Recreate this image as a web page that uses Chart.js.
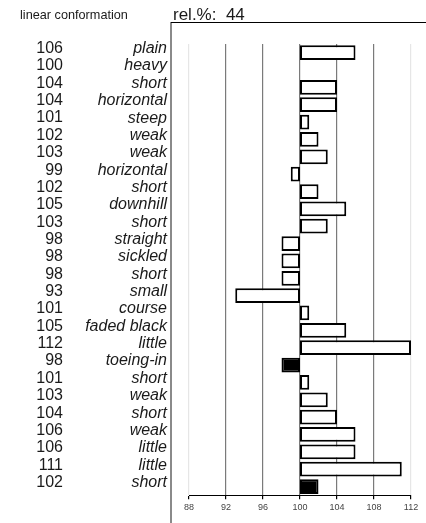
<!DOCTYPE html>
<html>
<head>
<meta charset="utf-8">
<script src="https://cdn.jsdelivr.net/npm/chart.js@4"></script>
<style>
  body { margin: 0; background: #fff; }
  canvas { display: block; }
</style>
</head>
<body>
<canvas id="chart" width="426" height="523"></canvas>
<script>
// rows, top to bottom
const traits = ['plain', 'heavy', 'short', 'horizontal', 'steep', 'weak', 'weak', 'horizontal', 'short',
    'downhill', 'short', 'straight', 'sickled', 'short', 'small', 'course', 'faded black', 'little',
    'toeing-in', 'short', 'weak', 'short', 'weak', 'little', 'little', 'short'];
const relValues = [106, 100, 104, 104, 101, 102, 103, 99, 102, 105, 103, 98, 98, 98, 93, 101, 105, 112,
    98, 101, 103, 104, 106, 106, 111, 102];
const filledRows = [18, 25];
const baseline = 100;
const xTicks = [88, 92, 96, 100, 104, 108, 112];
const chartTitle = 'linear conformation';
const relLabel = 'rel.%:  44';

const FONT = '"Liberation Sans", Arial, sans-serif';

// left columns, heading and frame
const labelsPlugin = {
    id: 'labels',
    afterDraw(chart) {
        const ctx = chart.ctx;
        const yScale = chart.scales.y;
        ctx.save();

        ctx.strokeStyle = '#8a8a8a';
        ctx.lineWidth = 2;
        ctx.beginPath();
        ctx.moveTo(171, 22);
        ctx.lineTo(171, 523);
        ctx.stroke();
        ctx.strokeStyle = '#000';
        ctx.lineWidth = 1;
        ctx.beginPath();
        ctx.moveTo(171, 22.5);
        ctx.lineTo(426, 22.5);
        ctx.stroke();

        ctx.fillStyle = '#1a1a1a';
        ctx.textBaseline = 'alphabetic';
        ctx.textAlign = 'left';
        ctx.font = '12.7px ' + FONT;
        ctx.fillText(chartTitle, 20, 19);
        ctx.font = '17px ' + FONT;
        ctx.fillText(relLabel, 173, 20);

        ctx.textBaseline = 'middle';
        ctx.textAlign = 'right';
        traits.forEach((t, i) => {
            const y = yScale.getPixelForValue(i) - 4;
            ctx.font = '16px ' + FONT;
            ctx.fillText(String(relValues[i]), 63, y);
            ctx.font = 'italic 16px ' + FONT;
            ctx.fillText(t, 167, y);
        });
        ctx.restore();
    }
};

new Chart(document.getElementById('chart'), {
    type: 'bar',
    data: {
        labels: traits.map((t, i) => i),
        datasets: [{
            data: relValues.map(v => [baseline, v]),
            backgroundColor: ctx => filledRows.includes(ctx.dataIndex) ? '#000' : '#fff',
            borderColor: '#000',
            borderWidth: 2,
            borderSkipped: false,
            barPercentage: 0.85,
            categoryPercentage: 1.0,
        }]
    },
    options: {
        indexAxis: 'y',
        responsive: false,
        animation: false,
        layout: { padding: { left: 189, right: 15, top: 44, bottom: 7 } },
        plugins: { legend: { display: false }, tooltip: { enabled: false } },
        scales: {
            x: {
                min: 88,
                max: 112,
                afterBuildTicks: axis => { axis.ticks = xTicks.map(v => ({ value: v })); },
                grid: {
                    color: ctx => (ctx.tick && (ctx.tick.value === 88 || ctx.tick.value === 112)) ? '#e6e6e6' : '#7a7a7a',
                    lineWidth: 1.2,
                    tickColor: '#000',
                    tickLength: 4,
                },
                border: { color: '#000', width: 1 },
                ticks: {
                    color: '#444',
                    font: { family: FONT, size: 9 },
                    padding: 3,
                    maxRotation: 0,
                },
            },
            y: {
                display: false,
            }
        }
    },
    plugins: [labelsPlugin]
});
</script>
</body>
</html>
